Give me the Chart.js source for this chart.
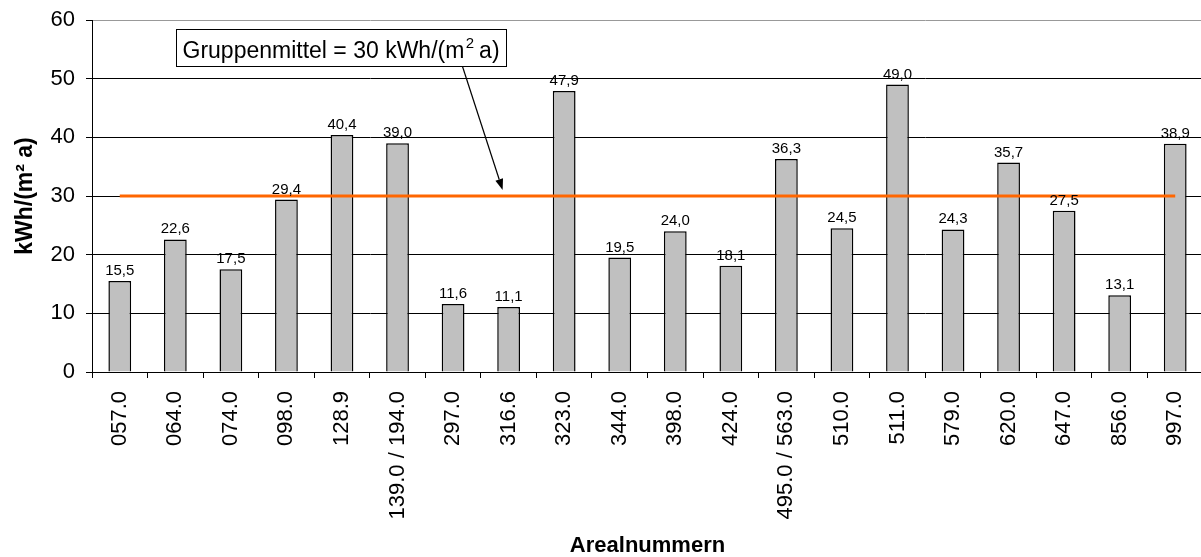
<!DOCTYPE html>
<html>
<head>
<meta charset="utf-8">
<script src="https://cdn.jsdelivr.net/npm/chart.js@4.4.1/dist/chart.umd.min.js"></script>
<style>
  html, body { margin: 0; padding: 0; background: #fff; overflow: hidden; width: 1201px; height: 557px; }
  #wrap { position: relative; width: 1201px; height: 557px; overflow: hidden; }
  canvas { display: block; }
</style>
</head>
<body>
<div id="wrap"><canvas id="c" width="1203" height="557" style="width:1203px;height:557px"></canvas></div>
<script>
const categories = ["057.0", "064.0", "074.0", "098.0", "128.9", "139.0 / 194.0", "297.0", "316.6", "323.0", "344.0",
  "398.0", "424.0", "495.0 / 563.0", "510.0", "511.0", "579.0", "620.0", "647.0", "856.0", "997.0"];
const values = [15.5, 22.6, 17.5, 29.4, 40.4, 39.0, 11.6, 11.1, 47.9, 19.5,
  24.0, 18.1, 36.3, 24.5, 49.0, 24.3, 35.7, 27.5, 13.1, 38.9];
const groupMean = [30, 30, 30, 30, 30, 30, 30, 30, 30, 30, 30, 30, 30, 30, 30, 30, 30, 30, 30, 30];
const yTicks = [0, 10, 20, 30, 40, 50, 60];
const annotationText = "Gruppenmittel = 30 kWh/(m";
const annotationSup = "2";
const annotationTail = " a)";
const xTitle = "Arealnummern";
const yTitle = "kWh/(m² a)";

const FONT = "'Liberation Sans', Arial, sans-serif";

const valueLabels = {
  id: 'valueLabels',
  afterDatasetsDraw(chart) {
    const ctx = chart.ctx;
    const meta = chart.getDatasetMeta(1);
    ctx.save();
    ctx.font = "15px " + FONT;
    ctx.fillStyle = "#000";
    ctx.textAlign = "center";
    ctx.textBaseline = "alphabetic";
    meta.data.forEach((bar, i) => {
      const txt = values[i].toFixed(1).replace('.', ',');
      ctx.fillText(txt, bar.x, bar.y - 6);
    });
    ctx.restore();
  }
};

const annotation = {
  id: 'annotation',
  afterDraw(chart) {
    const ctx = chart.ctx;
    const xs = chart.scales.x, ys = chart.scales.y;
    ctx.save();
    ctx.font = "23px " + FONT;
    const w1 = ctx.measureText(annotationText).width;
    ctx.font = "15px " + FONT;
    const w2 = ctx.measureText(annotationSup).width;
    ctx.font = "23px " + FONT;
    const w3 = ctx.measureText(annotationTail).width;
    const left = Math.round(xs.getPixelForValue(1)) + 1.5;
    const top = Math.round(ys.getPixelForValue(58.4)) + 0.5;
    const bottom = Math.round(ys.getPixelForValue(52.1)) + 0.5;
    const width = Math.round(w1 + w2 + w3 + 13);
    ctx.fillStyle = "#fff";
    ctx.fillRect(left, top, width, bottom - top);
    ctx.strokeStyle = "#000";
    ctx.lineWidth = 1;
    ctx.strokeRect(left, top, width, bottom - top);
    const base = bottom - 8.5;
    ctx.fillStyle = "#000";
    ctx.textAlign = "left";
    ctx.textBaseline = "alphabetic";
    ctx.fillText(annotationText, left + 6, base);
    ctx.font = "15px " + FONT;
    ctx.fillText(annotationSup, left + 6 + w1 + 1.5, base - 10.5);
    ctx.font = "23px " + FONT;
    ctx.fillText(annotationTail, left + 6 + w1 + w2, base);

    // arrow
    const sx = left + width - 44, sy = bottom;
    const tx = xs.getPixelForValue(7) - 6, ty = ys.getPixelForValue(30) - 6;
    const ang = Math.atan2(ty - sy, tx - sx);
    const hl = 11, hw = 4;
    const bx = tx - hl * Math.cos(ang), by = ty - hl * Math.sin(ang);
    ctx.beginPath();
    ctx.moveTo(sx, sy);
    ctx.lineTo(bx, by);
    ctx.lineWidth = 1.2;
    ctx.stroke();
    ctx.beginPath();
    ctx.moveTo(tx, ty);
    ctx.lineTo(bx + hw * Math.sin(ang), by - hw * Math.cos(ang));
    ctx.lineTo(bx - hw * Math.sin(ang), by + hw * Math.cos(ang));
    ctx.closePath();
    ctx.fill();
    ctx.restore();
  }
};

new Chart(document.getElementById('c'), {
  data: {
    labels: categories,
    datasets: [
      {
        type: 'line',
        label: 'Gruppenmittel',
        data: groupMean,
        borderColor: '#ff6600',
        borderWidth: 3,
        pointRadius: 0,
        fill: false,
        order: 0
      },
      {
        type: 'bar',
        label: 'kWh/(m² a)',
        data: values,
        backgroundColor: '#c0c0c0',
        borderColor: '#000',
        borderWidth: 1.5,
        categoryPercentage: 1,
        barPercentage: 0.41,
        order: 1
      }
    ]
  },
  options: {
    responsive: false,
    devicePixelRatio: 1,
    animation: false,
    layout: { padding: { top: 20, left: 0, right: 0, bottom: 0 } },
    plugins: { legend: { display: false }, tooltip: { enabled: false } },
    scales: {
      x: {
        offset: true,
        grid: { offset: true, drawOnChartArea: false, drawTicks: true, tickLength: 6, color: '#000', tickColor: '#000' },
        border: { color: '#000', width: 1 },
        ticks: { color: '#000', font: { family: FONT, size: 22 }, minRotation: 90, maxRotation: 90, autoSkip: false, padding: 13 },
        title: { display: true, text: xTitle, color: '#000', font: { family: FONT, size: 22, weight: 'bold', lineHeight: 0.8 }, padding: { top: 0, bottom: 2 } },
        afterFit(scale) { scale.height = 185; scale.paddingLeft = 0; scale.paddingRight = 0; }
      },
      y: {
        min: 0, max: 60,
        afterBuildTicks(scale) { scale.ticks = yTicks.map(v => ({ value: v })); },
        grid: {
          color: ctx => (ctx.tick && ctx.tick.value === 60) ? '#999' : '#000',
          tickColor: '#000',
          tickLength: 6,
          lineWidth: 1
        },
        border: { color: '#000', width: 1 },
        ticks: { color: '#000', font: { family: FONT, size: 22 }, padding: 11 },
        title: { display: true, text: yTitle, color: '#000', font: { family: FONT, size: 23, weight: 'bold', lineHeight: 1 }, padding: { top: 14, bottom: 0 } },
        afterFit(scale) { scale.width = 92; scale.paddingTop = 0; scale.paddingBottom = 0; }
      }
    }
  },
  plugins: [valueLabels, annotation]
});
</script>
</body>
</html>
